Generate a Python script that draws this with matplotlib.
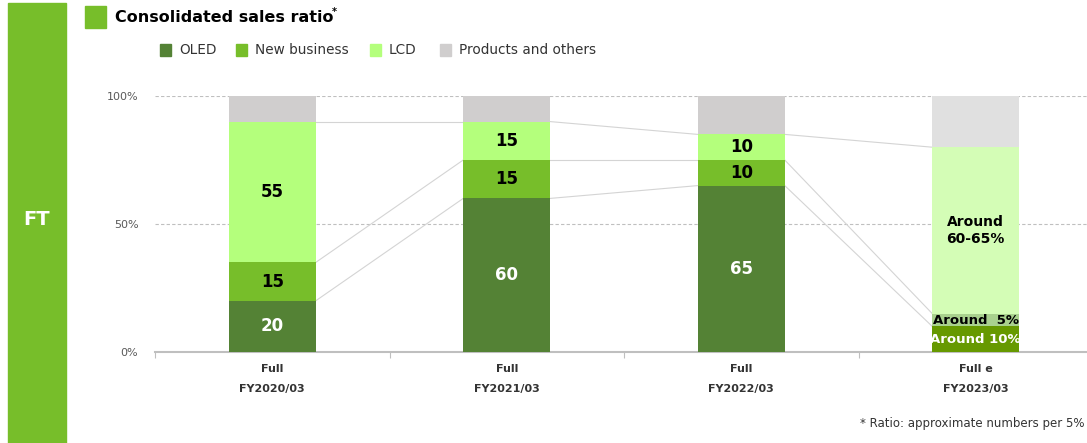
import numpy as np
import matplotlib
matplotlib.use("Agg")
import matplotlib.pyplot as plt
from matplotlib.patches import Rectangle

# Sales ratio by segment (%)
periods = ["FY2020/03", "FY2021/03", "FY2022/03", "FY2023/03"]
period_tags = ["Full", "Full", "Full", "Full e"]
segments = ["OLED", "New business", "LCD", "Products and others"]
oled = [20, 60, 65, 10]
new_business = [15, 15, 10, 5]
lcd = [55, 15, 10, 65]
others = [10, 10, 15, 20]

seg_labels = [
    ["20", "60", "65", "Around 10%"],
    ["15", "15", "10", "Around  5%"],
    ["55", "15", "10", "Around\n60-65%"],
]

actual_colors = ["#548235", "#77BE2A", "#B4FF7C", "#D0CECE"]
forecast_colors = ["#669900", "#A9D18E", "#D4FDB6", "#E0E0E0"]
label_colors = ["white", "black", "black"]

W, H = 1087, 443
fig = plt.figure(figsize=(W / 100, H / 100), dpi=100)

# left side band with section tag
fig.patches.append(Rectangle((8 / W, 0), 58 / W, 1 - 3 / H, transform=fig.transFigure,
                             color="#77BE2A", zorder=0))
fig.text(37 / W, 1 - 220 / H, "FT", color="white", fontsize=14, fontweight="bold",
         ha="center", va="center")

# title
fig.patches.append(Rectangle((85 / W, 1 - 28 / H), 21 / W, 22 / H, transform=fig.transFigure,
                             color="#77BE2A"))
fig.text(115 / W, 1 - 18 / H, "Consolidated sales ratio", fontsize=11.5, fontweight="bold",
         ha="left", va="center")
fig.text(332 / W, 1 - 12 / H, "*", fontsize=7, fontweight="bold", ha="left", va="center")

# legend
leg_x = [160, 236, 370, 440]
for x, name, c in zip(leg_x, segments, actual_colors):
    fig.patches.append(Rectangle((x / W, 1 - 56 / H), 11 / W, 12 / H,
                                 transform=fig.transFigure, color=c))
    fig.text((x + 19) / W, 1 - 50 / H, name, fontsize=9.8, color="#333333",
             ha="left", va="center")

ax = fig.add_axes([155 / W, 1 - 352 / H, (W - 155) / W, (352 - 96) / H])
x = np.arange(len(periods))
width = 0.371
data = np.array([oled, new_business, lcd, others])
bottoms = np.vstack([np.zeros(len(periods)), np.cumsum(data, axis=0)[:-1]])

for s in range(len(segments)):
    colors = [actual_colors[s]] * 3 + [forecast_colors[s]]
    ax.bar(x, data[s], width, bottom=bottoms[s], color=colors, zorder=3)

# connector lines between segment boundaries
tops = np.cumsum(data, axis=0)[:-1]
for row in tops:
    for i in range(len(periods) - 1):
        ax.plot([x[i] + width / 2, x[i + 1] - width / 2], [row[i], row[i + 1]],
                color="#D4D4D4", lw=0.8, zorder=2)

# segment labels
for s in range(3):
    for i in range(len(periods)):
        y = bottoms[s][i] + data[s][i] / 2
        if i == 3:
            fs = 9.5 if s < 2 else 10
        else:
            fs = 12
        ax.text(x[i], y, seg_labels[s][i], ha="center", va="center", fontsize=fs,
                fontweight="bold", color=label_colors[s], zorder=4, linespacing=1.3)

ax.set_xlim(-0.5, -0.5 + (W - 155) / 234.5)
ax.set_ylim(0, 100)
for sp in ["top", "right", "left"]:
    ax.spines[sp].set_visible(False)
ax.spines["bottom"].set_color("#BFBFBF")
ax.spines["bottom"].set_linewidth(1.5)

ax.set_yticks([0, 50, 100])
ax.set_yticklabels(["0%", "50%", "100%"], fontsize=8, color="#595959")
ax.tick_params(axis="y", length=0, pad=12)
ax.set_xticks([-0.5, 0.5, 1.5, 2.5])
ax.set_xticklabels([])
ax.tick_params(axis="x", length=4, color="#BFBFBF", width=0.8)
for yv in [50, 100]:
    ax.axhline(yv, color="#BFBFBF", lw=0.8, ls=(0, (3, 2)), zorder=1)

for i in range(len(periods)):
    ax.text(x[i], -6.5, period_tags[i], transform=ax.transData, ha="center", va="center",
            fontsize=8, fontweight="bold", color="#333333", clip_on=False)
    ax.text(x[i], -14.5, periods[i], transform=ax.transData, ha="center", va="center",
            fontsize=8, fontweight="bold", color="#333333", clip_on=False)

fig.text(1084 / W, 1 - 423 / H, "* Ratio: approximate numbers per 5%", fontsize=8.5,
         color="#333333", ha="right", va="center")

fig.savefig("out.png", dpi=100)
